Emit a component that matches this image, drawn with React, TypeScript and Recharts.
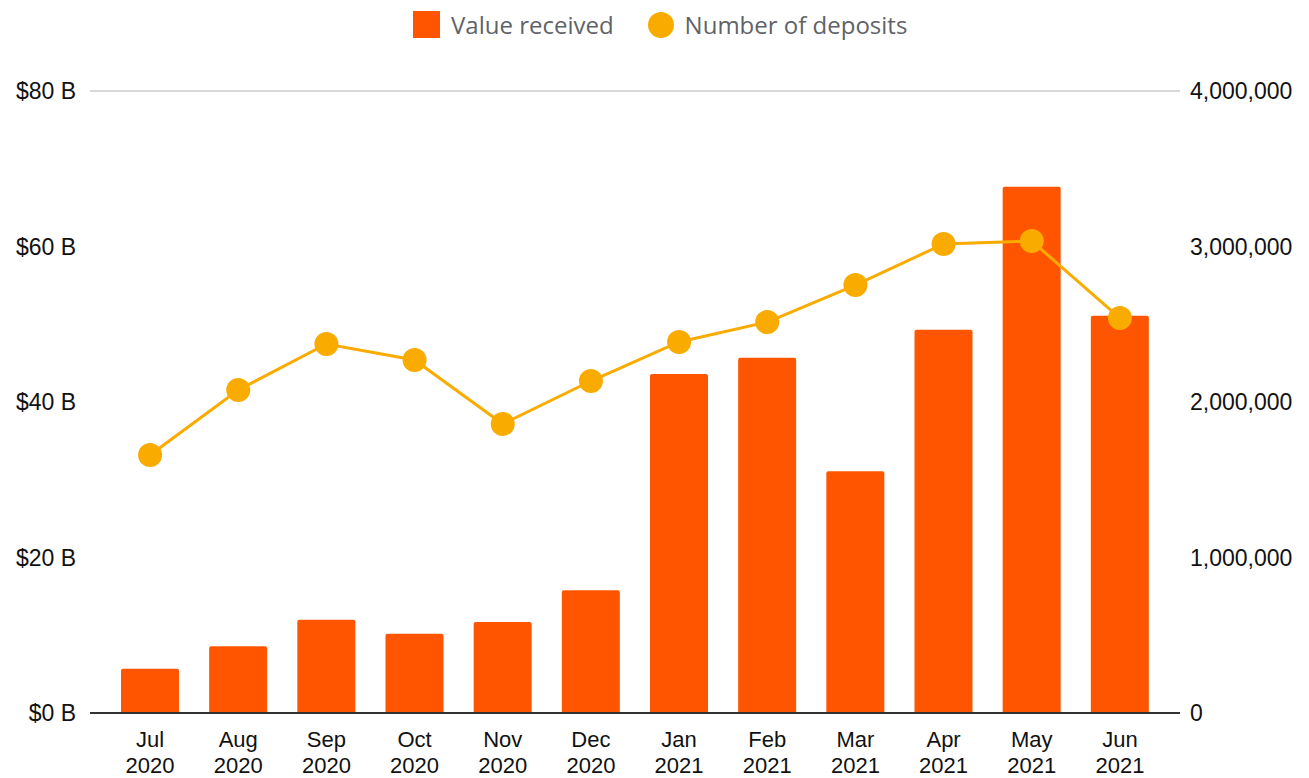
import { ComposedChart, Bar, Line, XAxis, YAxis, CartesianGrid } from 'recharts';

const months = ['Jul', 'Aug', 'Sep', 'Oct', 'Nov', 'Dec', 'Jan', 'Feb', 'Mar', 'Apr', 'May', 'Jun'];
const years = ['2020', '2020', '2020', '2020', '2020', '2020', '2021', '2021', '2021', '2021', '2021', '2021'];
// billions of dollars
const valueReceived = [5.7, 8.6, 12.0, 10.2, 11.7, 15.8, 43.6, 45.7, 31.1, 49.3, 67.7, 51.1];
const numberOfDeposits = [1659000, 2077000, 2373000, 2270000, 1859000, 2135000, 2386000, 2514000, 2752000, 3016000, 3035000, 2540000];
const leftTicks = [0, 20, 40, 60, 80];
const rightTicks = [0, 1000000, 2000000, 3000000, 4000000];

const data = months.map((m, i) => ({
  label: `${m}|${years[i]}`,
  value: valueReceived[i],
  deposits: numberOfDeposits[i],
}));

const BAR = '#ff5500';
const LINE = '#f9ab00';
const AXIS_FONT = "'Liberation Sans', Arial, sans-serif";

const MonthTick = (props: any) => {
  const { x, y, payload } = props;
  const [m, yr] = String(payload.value).split('|');
  return (
    <text x={x} y={y} textAnchor="middle" fill="#111" fontSize={22} fontFamily={AXIS_FONT}>
      <tspan x={x} dy={26}>{m}</tspan>
      <tspan x={x} dy={26}>{yr}</tspan>
    </text>
  );
};

export default function App() {
  return (
    <div style={{ position: 'absolute', left: 0, top: 0, width: 1309, height: 778, background: '#fff' }}>
      <div
        style={{
          position: 'absolute',
          top: 8,
          left: 413,
          display: 'flex',
          alignItems: 'center',
          fontFamily: "'Open Sans', 'Noto Sans', sans-serif",
          fontSize: 24,
          color: '#5f6368',
        }}
      >
        <span style={{ width: 27, height: 27, background: BAR, display: 'inline-block' }} />
        <span style={{ marginLeft: 11 }}>Value received</span>
        <span style={{ width: 26, height: 26, borderRadius: 13, background: LINE, display: 'inline-block', marginLeft: 34 }} />
        <span style={{ marginLeft: 11 }}>Number of deposits</span>
      </div>
      <ComposedChart
        width={1309}
        height={778}
        data={data}
        margin={{ top: 91, right: 0, bottom: 0, left: 0 }}
        barCategoryGap={15}
      >
        <CartesianGrid vertical={false} stroke="#cccccc" strokeWidth={1.5} />
        <XAxis
          dataKey="label"
          interval={0}
          height={65}
          padding={{ left: 16, right: 16 }}
          tickLine={false}
          axisLine={{ stroke: '#333', strokeWidth: 2 }}
          tick={<MonthTick />}
        />
        <YAxis
          yAxisId="left"
          width={90}
          domain={[0, 80]}
          ticks={leftTicks}
          tickFormatter={(v: number) => `$${v} B`}
          axisLine={false}
          tickLine={false}
          tickMargin={8}
          tick={{ fill: '#111', fontSize: 23, fontFamily: AXIS_FONT }}
        />
        <YAxis
          yAxisId="right"
          orientation="right"
          width={129}
          domain={[0, 4000000]}
          ticks={rightTicks}
          tickFormatter={(v: number) => v.toLocaleString('en-US')}
          axisLine={false}
          tickLine={false}
          tickMargin={4}
          tick={{ fill: '#111', fontSize: 23, fontFamily: AXIS_FONT }}
        />
        <Bar yAxisId="left" dataKey="value" fill={BAR} radius={[2, 2, 0, 0]} isAnimationActive={false} />
        <Line
          yAxisId="right"
          dataKey="deposits"
          stroke={LINE}
          strokeWidth={3}
          dot={{ r: 12, fill: LINE, stroke: LINE, strokeWidth: 0 }}
          activeDot={false}
          isAnimationActive={false}
        />
      </ComposedChart>
    </div>
  );
}
